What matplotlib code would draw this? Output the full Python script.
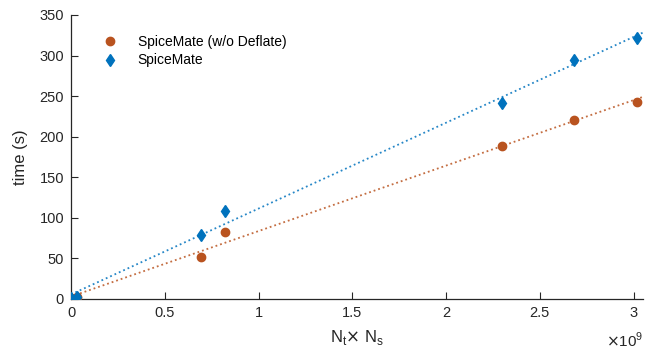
import numpy as np
import matplotlib
matplotlib.use("Agg")
import matplotlib.pyplot as plt

plt.rcParams['font.family'] = ['Liberation Sans', 'DejaVu Sans']

# N_t x N_s in units of 1e9
nx = [0.0, 0.03, 0.692, 0.819, 2.30, 2.68, 3.02]
t_nodeflate = [1, 3, 52, 82, 189, 221, 243]
t_spicemate = [1, 3, 79, 108, 242, 294, 322]

names = ['SpiceMate (w/o Deflate)', 'SpiceMate']
c_orange = '#B9531F'
c_blue = '#0072BD'

fig = plt.figure(figsize=(6.56, 3.56), dpi=100)
ax = fig.add_axes([71/656, 1-299/356, (643-71)/656, (299-15)/356])

xlim = (0, 3.05)
xs = np.array(xlim)
for y, c in [(t_nodeflate, c_orange), (t_spicemate, c_blue)]:
    p = np.polyfit(nx, y, 1)
    ax.plot(xs, np.polyval(p, xs), ':', color=c, lw=1.3, alpha=0.85, zorder=1)

ax.plot(nx, t_nodeflate, 'o', color=c_orange, ms=6, label=names[0], zorder=3)
ax.plot(nx, t_spicemate, 'd', color=c_blue, ms=6.5, label=names[1], zorder=3)

ax.set_xlim(*xlim)
ax.set_ylim(0, 350)
ax.set_xticks([0, 0.5, 1, 1.5, 2, 2.5, 3])
ax.set_xticklabels(['0', '0.5', '1', '1.5', '2', '2.5', '3'])
ax.set_yticks(range(0, 351, 50))
for s in ['top', 'right']:
    ax.spines[s].set_visible(False)
for s in ['left', 'bottom']:
    ax.spines[s].set_color('#262626')
    ax.spines[s].set_linewidth(0.9)
ax.tick_params(direction='in', length=5, width=0.8, labelsize=10.5,
               colors='#262626', pad=5)
ax.set_xlabel(r'N$_\mathregular{t}$$\times$ N$_\mathregular{s}$', fontsize=12, color='#262626', labelpad=6)
ax.set_ylabel('time (s)', fontsize=12, color='#262626', labelpad=8)
ax.text(1.0, -0.145, r'$\times$10$^\mathregular{9}$', transform=ax.transAxes,
        ha='right', va='center', fontsize=11, color='#262626')

leg = ax.legend(loc='upper left', frameon=False, fontsize=10,
                bbox_to_anchor=(0.022, 0.975), handletextpad=1.0, labelspacing=0.35)

fig.savefig('out.png', dpi=100)
